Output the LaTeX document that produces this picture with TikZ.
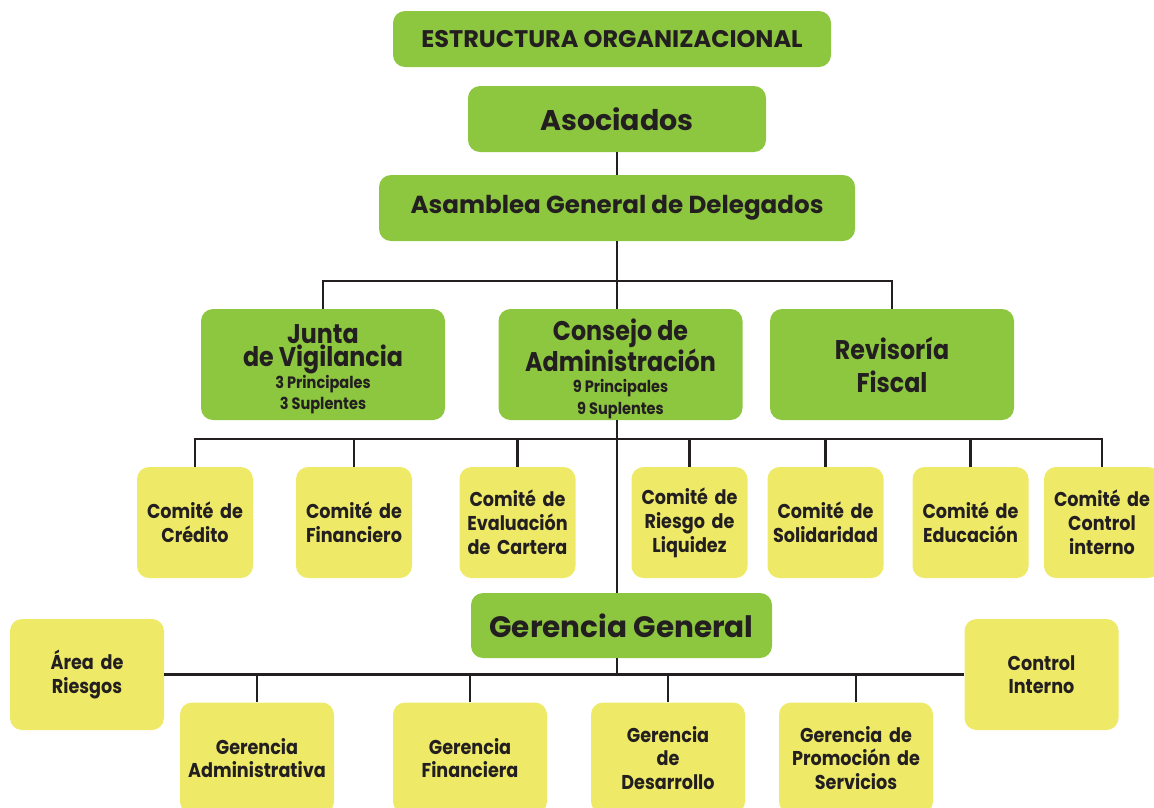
\documentclass[tikz,border=0pt]{standalone}
\usepackage{fontspec}
\setmainfont{Poppins}[FakeStretch=0.88]
\newfontfamily\anchafont{Poppins}
\usetikzlibrary{positioning,calc}
\definecolor{verde}{RGB}{141,198,63}
\definecolor{amarillo}{RGB}{238,234,104}
\definecolor{tinta}{RGB}{35,31,32}
\newlength{\cw}
\setlength{\cw}{116pt}
\newlength{\ch}
\setlength{\ch}{111pt}
\newlength{\gw}
\setlength{\gw}{154pt}
\newlength{\jw}
\setlength{\jw}{244pt}
\tikzset{
  gbox/.style  ={fill=verde,rounded corners=12pt,inner sep=0pt,align=center,text=tinta},
  junbox/.style={gbox,minimum width=\jw,minimum height=\ch,font=\bfseries},
  ybox/.style  ={fill=amarillo,rounded corners=12pt,inner sep=0pt,align=center,text=tinta,
                 text width=\cw,minimum height=\ch,font=\fontsize{20}{24}\selectfont\bfseries},
  gerbox/.style={ybox,text width=\gw,font=\fontsize{20}{23.5}\selectfont\bfseries},
  line/.style  ={draw=tinta,line width=2.5pt}
}

\begin{document}
\begin{tikzpicture}[x=1pt,y=-1pt]
\useasboundingbox (0,0) rectangle (1154,807);
\clip (0,0) rectangle (1154,807);

% cabeza
\node[gbox,minimum width=438pt,minimum height=56pt,font=\anchafont\fontsize{24}{28}\selectfont\bfseries]
      (tit)  at (612,39) {ESTRUCTURA ORGANIZACIONAL};
\node[gbox,minimum width=298pt,minimum height=66pt,font=\anchafont\fontsize{28.5}{32}\selectfont\bfseries]
      (aso)  at ($(tit)+(5,80)$) {Asociados};
\node[gbox,minimum width=476pt,minimum height=66pt,font=\anchafont\fontsize{24.6}{30}\selectfont\bfseries]
      (asam) at ($(aso)+(0,89)$) {Asamblea General de Delegados};

% organos
\node[junbox] (junta) at (323,364.5)
  {\parbox{\jw}{\centering\vspace*{9pt}\fontsize{27}{23.5}\selectfont Junta\\de Vigilancia\par
   \fontsize{16.5}{21.5}\selectfont 3 Principales\\3 Suplentes\par}};
\node[junbox] (cons)  at ($(junta)+(297.5,0)$)
  {\parbox{\jw}{\centering\vspace*{9pt}\fontsize{27}{23.5}\selectfont Consejo de\\Administración\par
   \fontsize{16.5}{21.5}\selectfont 9 Principales\\9 Suplentes\par}};
\node[junbox] (rev)   at ($(cons)+(271.5,0)$)
  {\parbox{\jw}{\centering\fontsize{27}{33}\selectfont Revisoría\\Fiscal\par}};

% comites
\def\rowC{522.5}
\node[ybox] (c1) at (195,\rowC)   {Comité de\\Crédito};
\node[ybox] (c2) at (354,\rowC)   {Comité de\\Financiero};
\node[ybox] (c3) at (517.5,\rowC) {Comité de\\Evaluación\\de Cartera};
\node[ybox] (c4) at (689.5,\rowC) {Comité de\\Riesgo de\\Liquidez};
\node[ybox] (c5) at (825.5,\rowC) {Comité de\\Solidaridad};
\node[ybox] (c6) at (970.5,\rowC) {Comité de\\Educación};
\node[ybox] (c7) at (1102,\rowC)  {Comité de\\Control\\interno};

% gerencia
\node[gbox,minimum width=301pt,minimum height=65pt,font=\anchafont\fontsize{29.5}{34}\selectfont\bfseries]
      (gg) at (621.5,625.5) {Gerencia General};
\node[gerbox] (area) at (87,674.5)     {Área de\\Riesgos};
\node[gerbox] (ci)   at (1041.5,674.5) {Control\\Interno};

\def\rowG{758}
\node[gerbox] (g1) at (257,\rowG) {Gerencia\\Administrativa};
\node[gerbox] (g2) at (470,\rowG) {Gerencia\\Financiera};
\node[gerbox] (g3) at (668,\rowG) {Gerencia\\de\\Desarrollo};
\node[gerbox] (g4) at (856,\rowG) {Gerencia de\\Promoción de\\Servicios};

% lineas
\draw[line] (aso) -- (asam);
\coordinate (bus1) at ($(asam.south)+(0,40)$);
\draw[line] (asam.south) -- (asam.south |- cons.north);
\draw[line] (junta.north) |- (bus1) -| (rev.north);

\coordinate (bus2) at ($(cons.south)+(0,19)$);
\draw[line] (cons.south -| aso.south) -- (gg.north -| aso.south);
\draw[line] (c1.north) |- (bus2) -| (c7.north);
\draw[line] (c2.north) -- (c2.north |- bus2);
\draw[line] (c3.north) -- (c3.north |- bus2);
\draw[line] (c4.north) -- (c4.north |- bus2);
\draw[line] (c5.north) -- (c5.north |- bus2);
\draw[line] (c6.north) -- (c6.north |- bus2);

\draw[line] (area.east) -- (ci.west);
\draw[line] (gg.south -| aso.south) -- (aso.south |- area.east);
\draw[line] (g1.north) -- (g1.north |- area.east);
\draw[line] (g2.north) -- (g2.north |- area.east);
\draw[line] (g3.north) -- (g3.north |- area.east);
\draw[line] (g4.north) -- (g4.north |- area.east);

\end{tikzpicture}
\end{document}
